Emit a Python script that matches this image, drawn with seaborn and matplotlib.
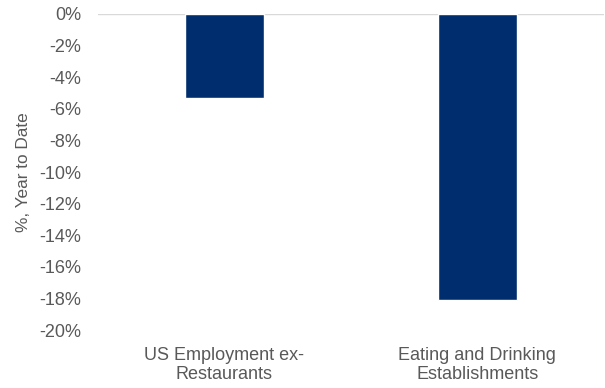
import matplotlib
matplotlib.use("Agg")
import matplotlib.pyplot as plt
import seaborn as sns
import pandas as pd
from matplotlib.ticker import FuncFormatter

categories = ["US Employment ex-\nRestaurants", "Eating and Drinking\nEstablishments"]
values = [-5.3, -18.1]
yticks = list(range(-20, 1, 2))

sns.set_theme(style="white")
plt.rcParams["font.family"] = ["Liberation Sans", "DejaVu Sans"]

df = pd.DataFrame({"category": categories, "change": values})

fig = plt.figure(figsize=(6.05, 3.88), dpi=100)
ax = fig.add_axes([0.162, 0.149, 0.836, 0.815])

sns.barplot(data=df, x="category", y="change", color="#002D6E",
            saturation=1, width=0.31, ax=ax)

ax.set_ylim(-20, 0)
ax.set_xlim(-0.5, 1.5)
ax.set_yticks(yticks)
ax.yaxis.set_major_formatter(FuncFormatter(lambda v, _: f"{v:.0f}%"))
ax.axhline(0, color="#D9D9D9", linewidth=1, zorder=0)

for s in ax.spines.values():
    s.set_visible(False)

ax.tick_params(axis="both", length=0, labelsize=13, colors="#595959")
ax.tick_params(axis="x", pad=12)
ax.tick_params(axis="y", pad=12)
for lbl in ax.get_xticklabels():
    lbl.set_linespacing(1.2)
ax.set_xlabel("")
ax.set_ylabel("%, Year to Date", fontsize=12.4, color="#595959", labelpad=6)

fig.savefig("out.png", dpi=100)
